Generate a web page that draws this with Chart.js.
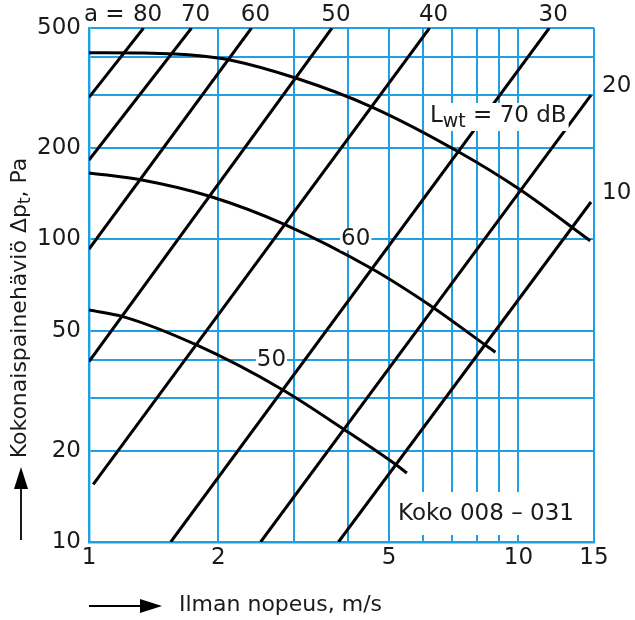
<!DOCTYPE html>
<html>
<head>
<meta charset="utf-8">
<script src="https://cdn.jsdelivr.net/npm/chart.js@4.4.1/dist/chart.umd.min.js"></script>
<style>
body { margin: 0; background: #fff; }
</style>
</head>
<body>
<canvas id="c" width="635" height="620"></canvas>
<script>
var xTicks = [1, 2, 3, 4, 5, 6, 7, 8, 9, 10, 15];
var xLabels = [1, 2, 5, 10, 15];
var yTicks = [10, 20, 30, 40, 50, 100, 200, 300, 400, 500];
var yLabels = [10, 20, 50, 100, 200, 500];

// straight "a" lines, ends
var aNames = ['80', '70', '60', '50', '40', '30', '20', '10'];
var aStartX = [1, 1, 1, 1, 1.023, 1.55, 2.51, 3.81];
var aStartY = [295, 183, 93, 39.5, 15.5, 10, 10, 10];
var aEndX = [1.34, 1.733, 2.39, 3.68, 6.21, 11.8, 14.76, 14.76];
var aEndY = [500, 500, 500, 500, 500, 500, 300, 133];

// sound power curves Lwt
var lwt70x = [1, 1.34, 1.81, 2.13, 3.04, 4.56, 7.25, 10.1, 14.7];
var lwt70y = [414, 413, 405, 392, 341, 274, 195, 146, 99];
var lwt60x = [1, 1.337, 1.91, 2.86, 4.56, 6.34, 8.37, 8.84];
var lwt60y = [166, 157, 139, 112, 80, 59.5, 44.8, 42.4];
var lwt50x = [1, 1.2, 1.78, 2.81, 3.92, 5.19, 5.5];
var lwt50y = [58.5, 55.6, 44.8, 32, 23.6, 18, 16.9];

var gridColor = '#1da1e2';
var inkColor = '#1a1a1a';
var font = "'DejaVu Sans'";
var fs = 23;

function pts(xs, ys) {
	var out = [];
	for (var i = 0; i < xs.length; i++) {
		out.push({x: xs[i], y: ys[i]});
	}
	return out;
}

var datasets = [];
for (var i = 0; i < aNames.length; i++) {
	datasets.push({
		label: 'a = ' + aNames[i],
		data: [{x: aStartX[i], y: aStartY[i]}, {x: aEndX[i], y: aEndY[i]}],
		borderColor: '#000',
		borderWidth: 3,
		pointRadius: 0,
		tension: 0
	});
}
[[lwt70x, lwt70y, '70'], [lwt60x, lwt60y, '60'], [lwt50x, lwt50y, '50']].forEach(function(c) {
	datasets.push({
		label: 'Lwt ' + c[2],
		data: pts(c[0], c[1]),
		borderColor: '#000',
		borderWidth: 3,
		pointRadius: 0,
		cubicInterpolationMode: 'monotone'
	});
});

function whiteText(ctx, txt, cx, cy, padX, padY) {
	var w = ctx.measureText(txt).width;
	ctx.fillStyle = '#fff';
	ctx.fillRect(cx - w / 2 - padX, cy - 11 - padY, w + 2 * padX, 22 + 2 * padY);
	ctx.fillStyle = inkColor;
	ctx.fillText(txt, cx, cy);
}

var labelPlugin = {
	id: 'labels',
	afterDatasetsDraw: function(chart) {
		var ctx = chart.ctx;
		var xs = chart.scales.x, ys = chart.scales.y;
		var area = chart.chartArea;
		ctx.save();
		ctx.textBaseline = 'middle';
		ctx.font = fs + 'px ' + font;
		ctx.fillStyle = inkColor;

		// a labels on top and right
		for (var i = 0; i < aNames.length; i++) {
			var px = xs.getPixelForValue(aEndX[i]);
			var py = ys.getPixelForValue(aEndY[i]);
			if (aEndY[i] >= 500) {
				ctx.textAlign = 'center';
				ctx.fillText(aNames[i], px + 4, 15);
				if (i == 0) {
					var w = ctx.measureText(aNames[i]).width;
					ctx.textAlign = 'right';
					ctx.fillText('a = ', px + 4 - w / 2 - 1, 15);
				}
			} else {
				ctx.textAlign = 'left';
				ctx.fillText(aNames[i], area.right + 8, py - 9);
			}
		}

		// curve labels with white background
		ctx.textAlign = 'center';
		whiteText(ctx, '60', xs.getPixelForValue(4.18), ys.getPixelForValue(100), 1, 0);
		whiteText(ctx, '50', xs.getPixelForValue(2.66), ys.getPixelForValue(40), 1, 0);

		// Lwt = 70 dB
		var lx = 430, ly = 116;
		var w1 = ctx.measureText('L').width;
		ctx.font = '19px ' + font;
		var w2 = ctx.measureText('wt').width;
		ctx.font = fs + 'px ' + font;
		var w3 = ctx.measureText(' = 70 dB').width;
		ctx.fillStyle = '#fff';
		ctx.fillRect(lx - 2, ly - 13, w1 + w2 + w3 + 4, 28);
		ctx.fillStyle = inkColor;
		ctx.textAlign = 'left';
		ctx.fillText('L', lx, ly);
		ctx.font = '19px ' + font;
		ctx.fillText('wt', lx + w1, ly + 6);
		ctx.font = fs + 'px ' + font;
		ctx.fillText(' = 70 dB', lx + w1 + w2, ly);

		// size box
		ctx.fillStyle = '#fff';
		ctx.fillRect(xs.getPixelForValue(5) + 2, 492, area.right - xs.getPixelForValue(5) - 3, 43);
		ctx.fillStyle = inkColor;
		ctx.textAlign = 'center';
		ctx.fillText('Koko 008 \u2013 031', 486, 514);

		// x title with arrow
		ctx.strokeStyle = '#000';
		ctx.lineWidth = 1.8;
		ctx.beginPath();
		ctx.moveTo(89, 606);
		ctx.lineTo(145, 606);
		ctx.stroke();
		ctx.beginPath();
		ctx.moveTo(162, 606);
		ctx.lineTo(140, 599);
		ctx.lineTo(140, 613);
		ctx.closePath();
		ctx.fillStyle = '#000';
		ctx.fill();
		ctx.fillStyle = inkColor;
		ctx.textAlign = 'left';
		ctx.font = '22px ' + font;
		ctx.fillText('Ilman nopeus, m/s', 179, 605);

		// y title with arrow
		ctx.beginPath();
		ctx.moveTo(21, 540);
		ctx.lineTo(21, 484);
		ctx.stroke();
		ctx.beginPath();
		ctx.moveTo(21, 467);
		ctx.lineTo(14, 489);
		ctx.lineTo(28, 489);
		ctx.closePath();
		ctx.fillStyle = '#000';
		ctx.fill();

		ctx.translate(20, 308);
		ctx.rotate(-Math.PI / 2);
		ctx.fillStyle = inkColor;
		ctx.font = '22px ' + font;
		var t1 = 'Kokonaispainehävi\u00f6 \u0394p';
		var t3 = ', Pa';
		var a1 = ctx.measureText(t1).width;
		var a3 = ctx.measureText(t3).width;
		ctx.font = '17px ' + font;
		var a2 = ctx.measureText('t').width;
		var start = -(a1 + a2 + a3) / 2;
		ctx.font = '22px ' + font;
		ctx.textAlign = 'left';
		ctx.fillText(t1, start, 0);
		ctx.font = '17px ' + font;
		ctx.fillText('t', start + a1, 6);
		ctx.font = '22px ' + font;
		ctx.fillText(t3, start + a1 + a2, 0);
		ctx.restore();
	}
};

new Chart(document.getElementById('c'), {
	type: 'line',
	data: { datasets: datasets },
	plugins: [labelPlugin],
	options: {
		responsive: false,
		animation: false,
		layout: { padding: { left: 0, top: 28, right: 41, bottom: 0 } },
		plugins: {
			legend: { display: false },
			tooltip: { enabled: false }
		},
		scales: {
			x: {
				type: 'logarithmic',
				min: 1,
				max: 15,
				afterBuildTicks: function(scale) {
					scale.ticks = xTicks.map(function(v) { return {value: v}; });
				},
				afterFit: function(scale) { scale.height = 78; },
				ticks: {
					autoSkip: false,
					maxRotation: 0,
					padding: 2,
					color: inkColor,
					font: { family: font, size: fs },
					callback: function(v) { return xLabels.indexOf(Number(v)) >= 0 ? String(v) : ''; }
				},
				grid: { color: gridColor, lineWidth: 2, drawTicks: false },
				border: { color: gridColor, width: 2.4 }
			},
			y: {
				type: 'logarithmic',
				min: 10,
				max: 500,
				afterBuildTicks: function(scale) {
					scale.ticks = yTicks.map(function(v) { return {value: v}; });
				},
				afterFit: function(scale) { scale.width = 89; },
				ticks: {
					autoSkip: false,
					padding: 8,
					color: inkColor,
					font: { family: font, size: fs },
					callback: function(v) { return yLabels.indexOf(Number(v)) >= 0 ? String(v) : ''; }
				},
				grid: { color: gridColor, lineWidth: 2, drawTicks: false },
				border: { color: gridColor, width: 2.4 }
			}
		}
	}
});
</script>
</body>
</html>
